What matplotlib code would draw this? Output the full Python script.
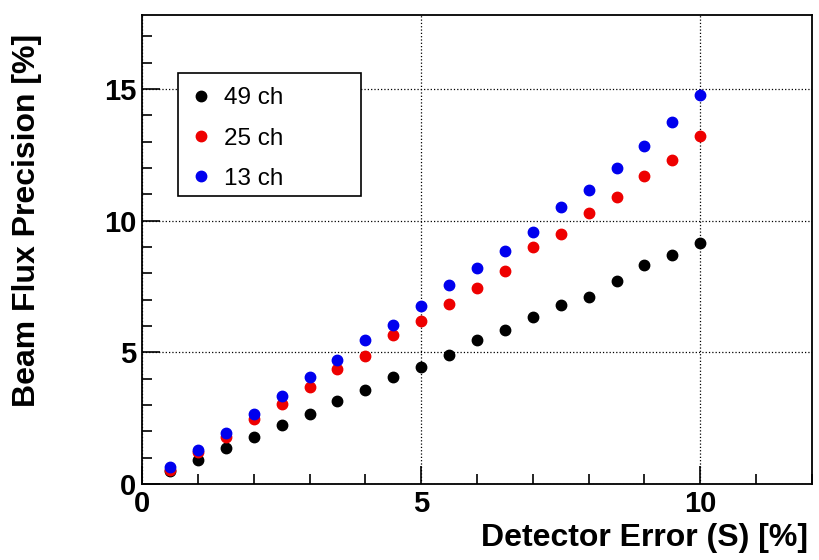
import numpy as np
import matplotlib
matplotlib.use('Agg')
import matplotlib.pyplot as plt
from matplotlib.ticker import MultipleLocator
from matplotlib.patches import Rectangle

plt.rcParams['font.family'] = ['Liberation Sans', 'DejaVu Sans']

# ========== 数据 ==========
detector_error = [0.5, 1.0, 1.5, 2.0, 2.5, 3.0, 3.5, 4.0, 4.5, 5.0,
                  5.5, 6.0, 6.5, 7.0, 7.5, 8.0, 8.5, 9.0, 9.5, 10.0]
prec_49ch = [0.50, 0.90, 1.35, 1.80, 2.25, 2.65, 3.15, 3.55, 4.05, 4.45,
             4.90, 5.45, 5.85, 6.35, 6.80, 7.10, 7.70, 8.30, 8.70, 9.15]
prec_25ch = [0.55, 1.20, 1.80, 2.45, 3.05, 3.70, 4.35, 4.85, 5.65, 6.20,
             6.85, 7.45, 8.10, 9.00, 9.50, 10.30, 10.90, 11.70, 12.30, 13.20]
prec_13ch = [0.65, 1.30, 1.95, 2.65, 3.35, 4.05, 4.70, 5.45, 6.05, 6.75,
             7.55, 8.20, 8.85, 9.55, 10.50, 11.15, 12.00, 12.85, 13.75, 14.75]
series = [('49 ch', prec_49ch, 'black'),
          ('25 ch', prec_25ch, '#ee0000'),
          ('13 ch', prec_13ch, '#0000ee')]

fig = plt.figure(figsize=(8.19, 5.60), dpi=100)
ax = fig.add_axes([0.1734, 0.1357, 0.818, 0.8373])

for label, vals, col in series:
    ax.plot(detector_error, vals, 'o', color=col, ms=7.5, mec=col, label=label)

ax.set_xlim(0, 12)
ax.set_ylim(0, 17.8)
ax.xaxis.set_major_locator(MultipleLocator(5))
ax.xaxis.set_minor_locator(MultipleLocator(1))
ax.yaxis.set_major_locator(MultipleLocator(5))
ax.yaxis.set_minor_locator(MultipleLocator(1))
ax.tick_params(which='both', direction='in', top=False, right=False, width=1.2)
ax.tick_params(which='major', length=13, labelsize=21, pad=4)
ax.tick_params(which='minor', length=7)
for lbl in ax.get_xticklabels() + ax.get_yticklabels():
    lbl.set_fontweight('bold')
ax.grid(True, which='major', linestyle=':', color='black', linewidth=0.9)
for sp in ax.spines.values():
    sp.set_linewidth(1.3)

ax.set_xlabel('Detector Error (S) [%]', fontsize=23, fontweight='bold', loc='right')
ax.xaxis.set_label_coords(0.994, -0.083)
ax.set_ylabel('Beam Flux Precision [%]', fontsize=23, fontweight='bold', loc='top')
ax.yaxis.set_label_coords(-0.150, 0.961)

# 图例：框单独画，比内容宽
ax.add_patch(Rectangle((0.0537, 0.614), 0.273, 0.262, transform=ax.transAxes,
                       facecolor='white', edgecolor='black', linewidth=1.2, zorder=4))
leg = ax.legend(loc='upper left', bbox_to_anchor=(0.070, 0.846), fontsize=17.5,
                frameon=False, handletextpad=0.45, labelspacing=0.75, borderpad=0,
                handlelength=1.0, borderaxespad=0)
leg.set_zorder(5)

fig.savefig('out.png', dpi=100)
